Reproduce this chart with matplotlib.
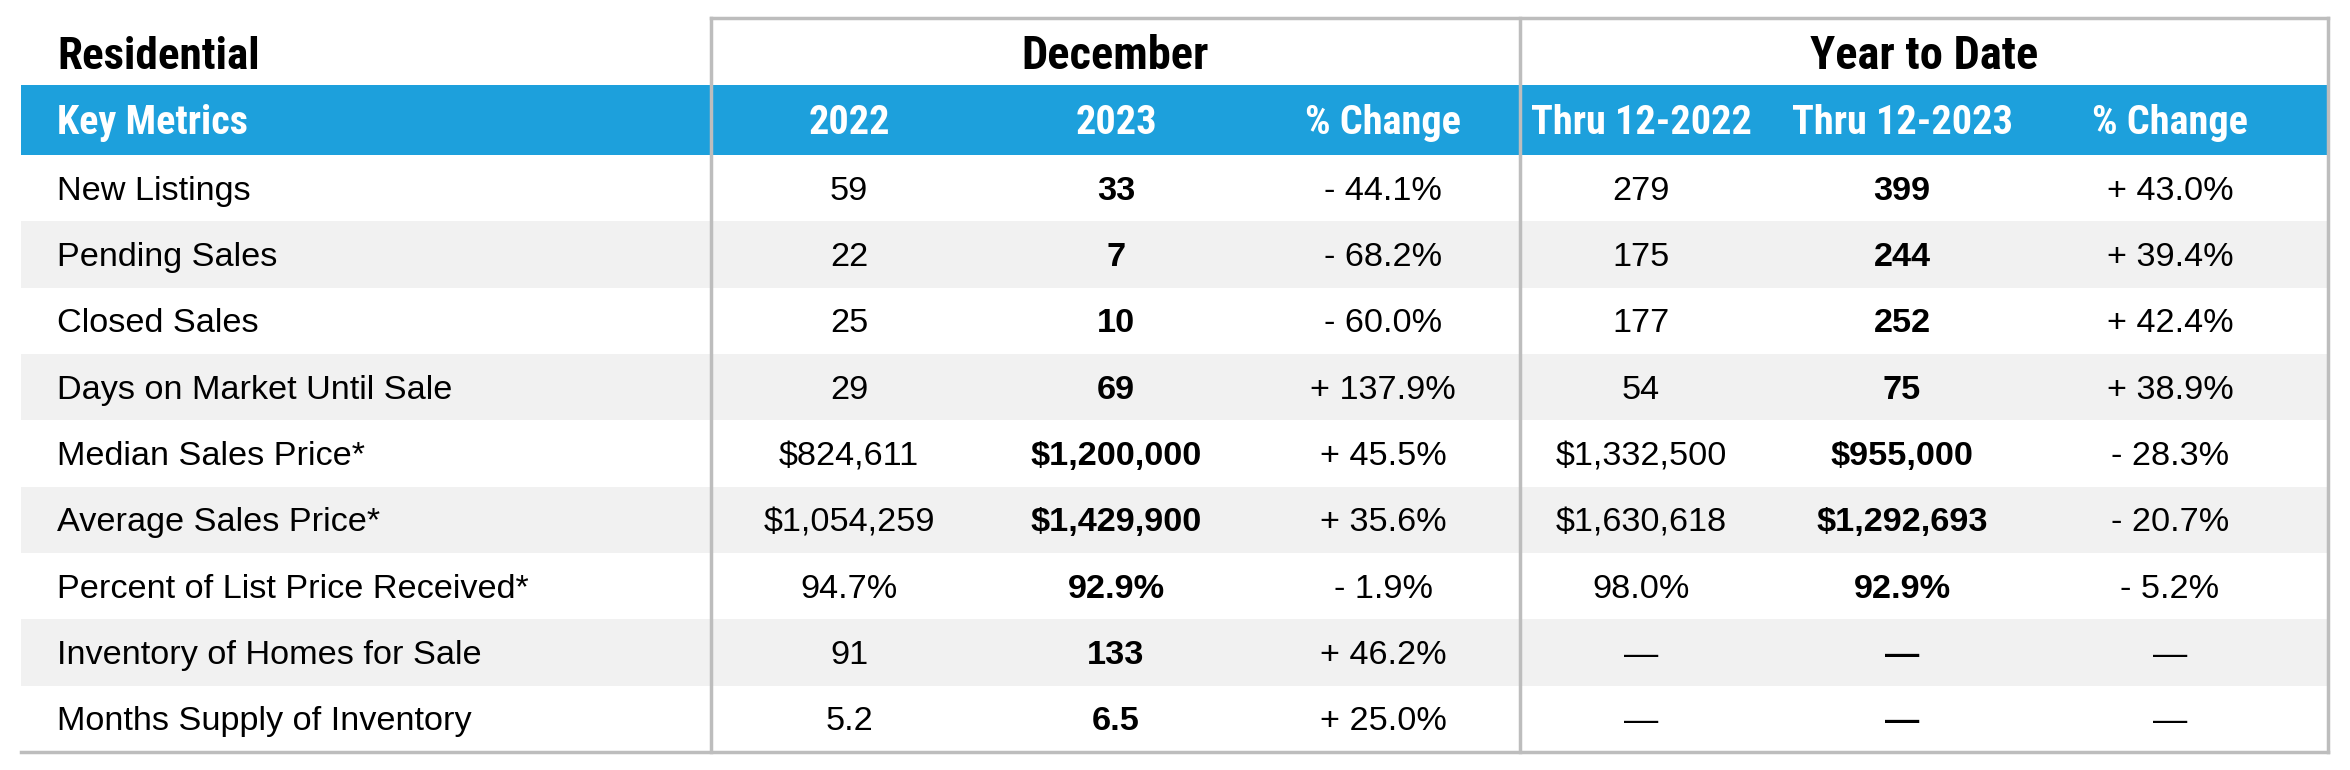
import matplotlib
matplotlib.use('Agg')
import matplotlib.pyplot as plt
from matplotlib.patches import Rectangle

# table content
metrics = ['New Listings', 'Pending Sales', 'Closed Sales', 'Days on Market Until Sale',
           'Median Sales Price*', 'Average Sales Price*', 'Percent of List Price Received*',
           'Inventory of Homes for Sale', 'Months Supply of Inventory']
dec_2022 = ['59', '22', '25', '29', '$824,611', '$1,054,259', '94.7%', '91', '5.2']
dec_2023 = ['33', '7', '10', '69', '$1,200,000', '$1,429,900', '92.9%', '133', '6.5']
dec_change = ['- 44.1%', '- 68.2%', '- 60.0%', '+ 137.9%', '+ 45.5%', '+ 35.6%',
              '- 1.9%', '+ 46.2%', '+ 25.0%']
ytd_2022 = ['279', '175', '177', '54', '$1,332,500', '$1,630,618', '98.0%', '—', '—']
ytd_2023 = ['399', '244', '252', '75', '$955,000', '$1,292,693', '92.9%', '—', '—']
ytd_change = ['+ 43.0%', '+ 39.4%', '+ 42.4%', '+ 38.9%', '- 28.3%', '- 20.7%',
              '- 5.2%', '—', '—']
sub_headers = ['2022', '2023', '% Change', 'Thru 12-2022', 'Thru 12-2023', '% Change']
groups = ['December', 'Year to Date']

W, H = 2350, 770
BLUE = '#1da0dc'
GRID = '#bdbdbd'
SHADE = '#f1f1f1'
HEAD_FONT = ['Roboto Condensed', 'DejaVu Sans']
BODY_FONT = ['Liberation Sans', 'DejaVu Sans']
BODY_SIZE = 24.7

left, right = 21, 2328
split1, split2 = 711, 1520
top = 18
band_top, band_bot = 85, 155
bottom = 752
row_h = (bottom - band_bot) / len(metrics)
col_x = [849, 1116, 1383, 1641, 1902, 2170]
text_x = 57
title_base = 69
band_base = 134
body_off = 11.5   # baseline below row centre

fig = plt.figure(figsize=(W / 100, H / 100), dpi=100)
ax = fig.add_axes([0, 0, 1, 1])
ax.set_xlim(0, W)
ax.set_ylim(H, 0)
ax.axis('off')

# header band
ax.add_patch(Rectangle((left, band_top), right - left, band_bot - band_top,
                       color=BLUE, lw=0, zorder=1))
ax.text(text_x, title_base, 'Residential', family=HEAD_FONT,
        weight='bold', fontsize=32.5, va='baseline', ha='left')
ax.text(text_x, band_base, 'Key Metrics', family=HEAD_FONT,
        weight='bold', fontsize=29, color='white', va='baseline', ha='left')
for g, (a, b) in zip(groups, [(split1, split2), (split2, right)]):
    ax.text((a + b) / 2, title_base, g, family=HEAD_FONT,
            weight='bold', fontsize=33.5, va='baseline', ha='center')
for x, lab in zip(col_x, sub_headers):
    ax.text(x, band_base, lab, family=HEAD_FONT,
            weight='bold', fontsize=29, color='white', va='baseline', ha='center')

# body rows
columns = [dec_2022, dec_2023, dec_change, ytd_2022, ytd_2023, ytd_change]
for i, name in enumerate(metrics):
    y0 = band_bot + i * row_h
    yb = y0 + row_h / 2 + body_off
    if i % 2 == 1:
        ax.add_patch(Rectangle((left, y0), right - left, row_h, color=SHADE,
                               lw=0, zorder=0))
    ax.text(text_x, yb, name, family=BODY_FONT, fontsize=BODY_SIZE,
            va='baseline', ha='left')
    for j, (x, col) in enumerate(zip(col_x, columns)):
        bold = j in (1, 4)
        ax.text(x, yb, col[i], family=BODY_FONT, fontsize=BODY_SIZE, va='baseline',
                ha='center', weight='bold' if bold else 'normal')

# frame lines
ax.plot([split1, right], [top, top], color=GRID, lw=2.5, zorder=3)
ax.plot([left, right], [bottom, bottom], color=GRID, lw=2.5, zorder=3)
for x in (split1, split2, right):
    ax.plot([x, x], [top, bottom], color=GRID, lw=2.5, zorder=3)

fig.savefig('out.png', dpi=100, facecolor='white')
